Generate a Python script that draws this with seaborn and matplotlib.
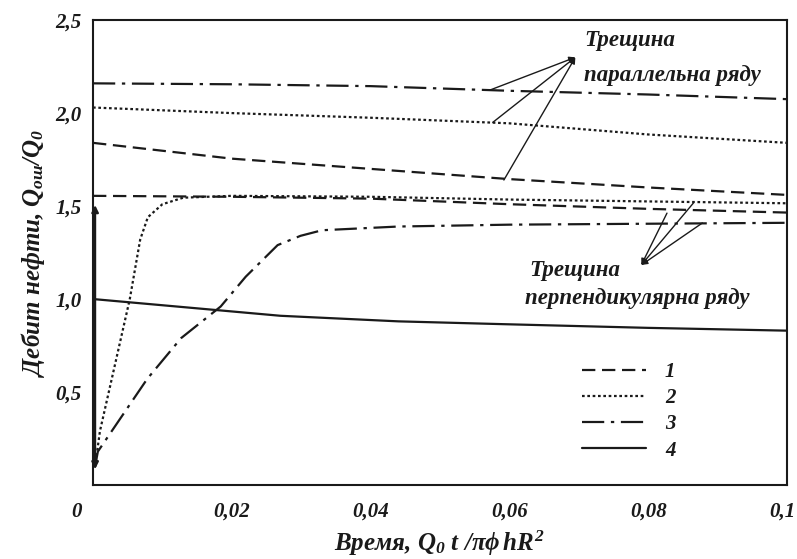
import numpy as np
import pandas as pd
import matplotlib
matplotlib.use("Agg")
import matplotlib.pyplot as plt
import matplotlib.transforms as mtransforms
import seaborn as sns

# --- data ---
t_par = [0.0, 0.02, 0.04, 0.06, 0.08, 0.1]
par1 = [1.84, 1.755, 1.70, 1.645, 1.60, 1.56]      # dashed, parallel
par2 = [2.03, 2.00, 1.975, 1.945, 1.885, 1.84]     # dotted, parallel
par3 = [2.16, 2.155, 2.145, 2.12, 2.10, 2.075]     # dash-dot, parallel

t_perp1 = [0.0, 0.02, 0.04, 0.06, 0.08, 0.1]
perp1 = [1.555, 1.55, 1.54, 1.51, 1.485, 1.465]    # dashed, perpendicular

t_perp2 = [0.0003, 0.001, 0.003, 0.0053, 0.0068, 0.0079, 0.010, 0.013, 0.02, 0.04, 0.06, 0.08, 0.1]
perp2 = [0.10, 0.29, 0.62, 1.0, 1.32, 1.44, 1.51, 1.545, 1.555, 1.55, 1.535, 1.525, 1.515]

t_perp3 = [0.0003, 0.0007, 0.0078, 0.0127, 0.0184, 0.022, 0.0266, 0.0299, 0.033, 0.044, 0.06, 0.08, 0.1]
perp3 = [0.10, 0.18, 0.57, 0.79, 0.96, 1.12, 1.29, 1.34, 1.37, 1.39, 1.40, 1.405, 1.41]

t_4 = [0.0, 0.018, 0.027, 0.044, 0.059, 0.08, 0.1]
curve4 = [1.0, 0.94, 0.91, 0.88, 0.865, 0.845, 0.83]

x_ticks = [0, 0.02, 0.04, 0.06, 0.08, 0.1]
x_labels = ["0", "0,02", "0,04", "0,06", "0,08", "0,1"]
y_ticks = [0.5, 1.0, 1.5, 2.0, 2.5]
y_labels = ["0,5", "1,0", "1,5", "2,0", "2,5"]
legend_labels = ["1", "2", "3", "4"]

sns.set_theme(style="white")
plt.rcParams["font.family"] = ["Liberation Serif", "DejaVu Serif"]
plt.rcParams["mathtext.fontset"] = "custom"
plt.rcParams["mathtext.it"] = "Liberation Serif:style=italic:weight=bold"
plt.rcParams["mathtext.rm"] = "Liberation Serif:style=italic:weight=bold"
plt.rcParams["mathtext.bf"] = "Liberation Serif:style=italic:weight=bold"

ink = "#1a1a1a"
fam = ["Liberation Serif", "DejaVu Serif"]
fnt = dict(family=fam, weight="bold", style="italic", size=15)
fnt_note = dict(family=fam, weight="bold", style="italic", size=16.5)
fnt_lab = dict(family=fam, weight="bold", style="italic", size=18)
dash1 = (0, (6, 3))
dot2 = (0, (1.2, 1.2))
dashdot3 = (0, (10, 3, 1.5, 3))

fig = plt.figure(figsize=(7.97, 5.59), dpi=100)
ax = fig.add_axes([0.1167, 0.1324, 0.8708, 0.8316])

series = [
    (t_par, par1, dash1),
    (t_par, par2, dot2),
    (t_par, par3, dashdot3),
    (t_perp1, perp1, dash1),
    (t_perp2, perp2, dot2),
    (t_perp3, perp3, dashdot3),
    (t_4, curve4, "-"),
]
for tx, qy, ls in series:
    sns.lineplot(x=tx, y=qy, ax=ax, color=ink, linewidth=1.6, linestyle=ls)

lines = ax.get_lines()
handles = [lines[0], lines[1], lines[2], lines[6]]
leg = ax.legend(handles, legend_labels, frameon=False, prop=dict(fnt),
                loc="upper left", bbox_to_anchor=(0.677, 0.305),
                handlelength=3.1, handletextpad=0.9, labelspacing=0.3)
for txt in leg.get_texts():
    txt.set_color(ink)

# double-headed arrow at t ~ 0
ax.annotate("", xy=(0.0003, 1.52), xytext=(0.0003, 0.07),
            arrowprops=dict(arrowstyle="<|-|>", color=ink, lw=1.6, mutation_scale=10))

# annotations
arr = dict(arrowstyle="-|>", color=ink, lw=1.0, mutation_scale=9, shrinkA=0, shrinkB=0)
for pt in [(0.0572, 2.124), (0.0576, 1.95), (0.0592, 1.64)]:
    ax.annotate("", xy=(0.0695, 2.30), xytext=pt, arrowprops=arr)
for pt in [(0.0827, 1.462), (0.0865, 1.516), (0.0878, 1.409)]:
    ax.annotate("", xy=(0.0790, 1.183), xytext=pt, arrowprops=arr)

ax.text(0.0708, 2.39, "Трещина", ha="left", va="center", color=ink, **fnt_note)
ax.text(0.0708, 2.20, "параллельна ряду", ha="left", va="center", color=ink, **fnt_note)
ax.text(0.0628, 1.156, "Трещина", ha="left", va="center", color=ink, **fnt_note)
ax.text(0.0623, 1.005, "перпендикулярна ряду", ha="left", va="center", color=ink, **fnt_note)

ax.set_xlim(0, 0.1)
ax.set_ylim(0, 2.5)
ax.set_xticks(x_ticks)
ax.set_xticklabels(x_labels, color=ink, **fnt)
ax.set_yticks(y_ticks)
ax.set_yticklabels(y_labels, color=ink, **fnt)
ax.tick_params(direction="in", length=5, width=1.2, color=ink)
ax.tick_params(axis="x", pad=12)
ax.tick_params(axis="y", pad=8)
# nudge outermost x labels like the reference
xl = ax.get_xticklabels()
xl[0].set_transform(xl[0].get_transform() + mtransforms.ScaledTranslation(-16 / 100, 0, fig.dpi_scale_trans))
xl[-1].set_transform(xl[-1].get_transform() + mtransforms.ScaledTranslation(-5 / 100, 0, fig.dpi_scale_trans))
for s in ax.spines.values():
    s.set_color(ink)
    s.set_linewidth(1.5)

ax.set_xlabel(r"Время, $Q_0\ t\ /\pi\phi\, hR^2$", color=ink, labelpad=5, **fnt_lab)
ax.set_ylabel(r"Дебит нефти, $Q_{ош}/Q_0$", color=ink, labelpad=6, **fnt_lab)

fig.savefig("out.png", dpi=100)
